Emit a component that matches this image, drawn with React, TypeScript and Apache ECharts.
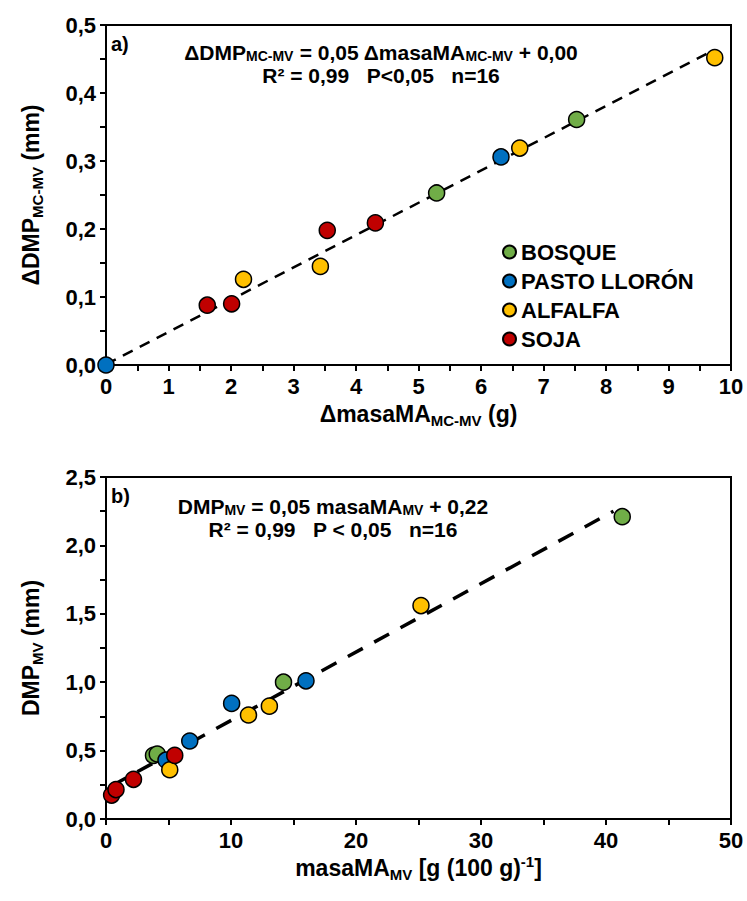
import React, { useEffect, useRef } from "react";
import * as echarts from "echarts";

// ---- Data: panel a) ----
const seriesNames = ["BOSQUE", "PASTO LLORÓN", "ALFALFA", "SOJA"];
const colors = ["#70AD47", "#0070C0", "#FFC000", "#C00000"];

const aBosque = [[5.29, 0.253], [7.53, 0.361]];
const aPasto = [[0, 0], [6.32, 0.306]];
const aAlfalfa = [[2.2, 0.126], [3.43, 0.145], [6.62, 0.319], [9.74, 0.452]];
const aSoja = [[1.62, 0.088], [2.01, 0.09], [3.54, 0.198], [4.31, 0.209]];
const aTrend = [[0, 0.001], [9.62, 0.458]];

// ---- Data: panel b) ----
const bBosque = [[3.8, 0.465], [4.1, 0.475], [14.2, 1.0], [41.3, 2.21]];
const bPasto = [[4.8, 0.43], [6.7, 0.57], [10.05, 0.845], [16.0, 1.01]];
const bAlfalfa = [[5.1, 0.36], [11.4, 0.76], [13.07, 0.825], [25.2, 1.56]];
const bSoja = [[0.45, 0.175], [0.8, 0.215], [2.2, 0.29], [5.5, 0.465]];
const bTrend = [[0.4, 0.24], [40.6, 2.25]];

const FONT = "'Liberation Sans', Arial, sans-serif";

const subRich = (size: number, lh: number) => ({
  sub: { fontSize: Math.round(size * 0.66), fontWeight: "bold", fontFamily: FONT, color: "#000", verticalAlign: "bottom", lineHeight: lh },
  sup: { fontSize: Math.round(size * 0.66), fontWeight: "bold", fontFamily: FONT, color: "#000", verticalAlign: "top", lineHeight: lh },
});

const comma = (d: number) => (v: number) => v.toFixed(d).replace(".", ",");

export default function App() {
  const ref = useRef<HTMLDivElement>(null);
  useEffect(() => {
    if (!ref.current) return;
    const chart = echarts.init(ref.current, undefined, { renderer: "svg" });
    const axisCommon = {
      axisLine: { onZero: false, lineStyle: { color: "#000", width: 2 } },
      axisTick: { show: true, inside: false, length: 6, lineStyle: { color: "#000", width: 2 } },
      minorTick: { show: true, splitNumber: 2, length: 6, lineStyle: { color: "#000", width: 2 } },
      splitLine: { show: false },
      axisLabel: { color: "#000", fontSize: 22, fontWeight: "bold", fontFamily: FONT, margin: 10 },
      nameLocation: "middle",
      nameTextStyle: { color: "#000", fontSize: 23, fontWeight: "bold", fontFamily: FONT, rich: subRich(23, 28) },
    };
    const scatter = (name: string, color: string, data: number[][], idx: number) => ({
      type: "scatter",
      name,
      xAxisIndex: idx,
      yAxisIndex: idx,
      data,
      symbol: "circle",
      symbolSize: 16,
      z: 3,
      itemStyle: { color, borderColor: "#000", borderWidth: 1.5, opacity: 1 },
    });
    const aSets = [aBosque, aPasto, aAlfalfa, aSoja];
    const bSets = [bBosque, bPasto, bAlfalfa, bSoja];
    const eqRich = subRich(21, 21);
    const eqStyle = { fontSize: 21, fontWeight: "bold", fontFamily: FONT, fill: "#000", align: "center", verticalAlign: "middle", lineHeight: 21 };
    const option: any = {
      animation: false,
      grid: [
        { left: 106, right: 16, top: 25, height: 340, show: true, borderColor: "#000", borderWidth: 2, backgroundColor: "transparent" },
        { left: 106, right: 16, top: 477, height: 342, show: true, borderColor: "#000", borderWidth: 2, backgroundColor: "transparent" },
      ],
      xAxis: [
        {
          ...axisCommon, type: "value", gridIndex: 0, min: 0, max: 10, interval: 1,
          axisLabel: { ...axisCommon.axisLabel, formatter: comma(0) },
          name: "ΔmasaMA{sub|MC-MV} (g)", nameGap: 35,
        },
        {
          ...axisCommon, type: "value", gridIndex: 1, min: 0, max: 50, interval: 10,
          axisLabel: { ...axisCommon.axisLabel, formatter: comma(0) },
          name: "masaMA{sub|MV} [g (100 g){sup|-1}]", nameGap: 35,
        },
      ],
      yAxis: [
        {
          ...axisCommon, type: "value", gridIndex: 0, min: 0, max: 0.5, interval: 0.1,
          axisLabel: { ...axisCommon.axisLabel, formatter: comma(1) },
          name: "ΔDMP{sub|MC-MV} (mm)", nameGap: 61,
        },
        {
          ...axisCommon, type: "value", gridIndex: 1, min: 0, max: 2.5, interval: 0.5,
          axisLabel: { ...axisCommon.axisLabel, formatter: comma(1) },
          name: "DMP{sub|MV} (mm)", nameGap: 61,
        },
      ],
      legend: {
        data: seriesNames,
        orient: "vertical",
        left: 502,
        top: 241,
        itemGap: 7,
        itemWidth: 13,
        itemHeight: 13,
        padding: 0,
        icon: "circle",
        textStyle: { color: "#000", fontSize: 22, fontWeight: "bold", fontFamily: FONT, lineHeight: 22 },
      },
      graphic: [
        { type: "text", x: 111, y: 34, style: { text: "a)", fontSize: 20, fontWeight: "bold", fontFamily: FONT, fill: "#000" } },
        { type: "text", x: 111, y: 486, style: { text: "b)", fontSize: 20, fontWeight: "bold", fontFamily: FONT, fill: "#000" } },
        {
          type: "text", x: 381, y: 52,
          style: { ...eqStyle, text: "ΔDMP{sub|MC-MV} = 0,05 ΔmasaMA{sub|MC-MV} + 0,00", rich: eqRich },
        },
        {
          type: "text", x: 381, y: 75,
          style: { ...eqStyle, text: "R² = 0,99   P<0,05   n=16" },
        },
        {
          type: "text", x: 333, y: 506,
          style: { ...eqStyle, text: "DMP{sub|MV} = 0,05 masaMA{sub|MV} + 0,22", rich: eqRich },
        },
        {
          type: "text", x: 333, y: 529,
          style: { ...eqStyle, text: "R² = 0,99   P < 0,05   n=16" },
        },
      ],
      series: [
        {
          type: "line", xAxisIndex: 0, yAxisIndex: 0, data: aTrend, symbol: "none", silent: true, z: 2,
          lineStyle: { color: "#000", width: 2.5, type: [11, 8] },
        },
        {
          type: "line", xAxisIndex: 1, yAxisIndex: 1, data: bTrend, symbol: "none", silent: true, z: 2,
          lineStyle: { color: "#000", width: 3.5, type: [17, 13] },
        },
        ...seriesNames.map((n, i) => scatter(n, colors[i], aSets[i], 0)),
        ...seriesNames.map((n, i) => scatter(n, colors[i], bSets[i], 1)),
      ],
    };
    chart.setOption(option);
    return () => chart.dispose();
  }, []);
  return <div ref={ref} style={{ position: "absolute", left: 0, top: 0, width: 747, height: 901 }} />;
}
